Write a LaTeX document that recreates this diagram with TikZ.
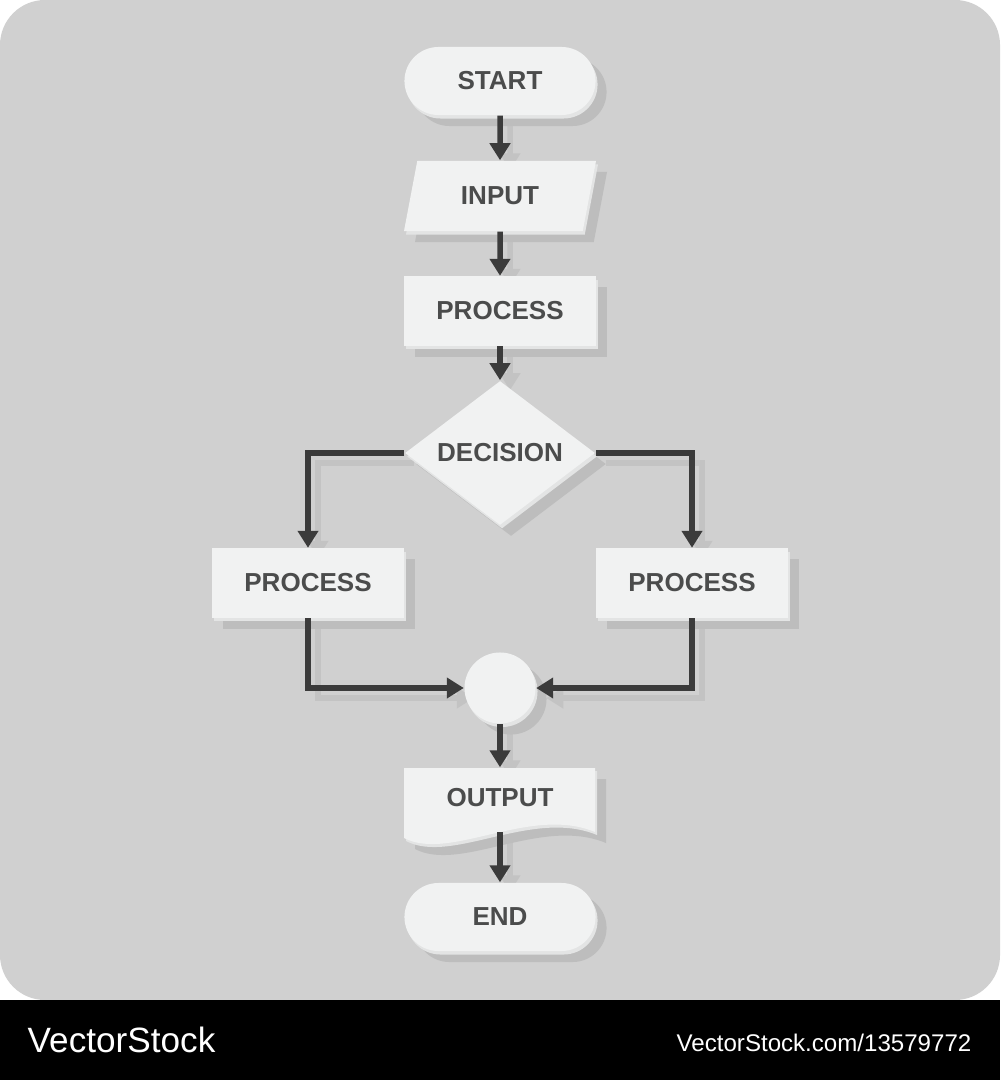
\documentclass[tikz,border=0pt]{standalone}
\usepackage{fontspec}
\setmainfont{Liberation Sans}
\usetikzlibrary{
    shapes.geometric,
    arrows.meta,
    shadows,
    positioning
}
\definecolor{panel}{HTML}{D0D0D0}
\definecolor{boxfill}{HTML}{F1F2F2}
\definecolor{boxedge}{HTML}{E3E4E4}
\definecolor{boxshd}{HTML}{BDBDBD}
\definecolor{wireshd}{HTML}{C3C3C3}
\definecolor{wireink}{HTML}{3B3B3B}
\definecolor{ink}{HTML}{4B4C4C}
\pgfdeclarelayer{back}
\pgfdeclarelayer{under}
\pgfsetlayers{back,under,main}

\newcommand{\flowlinks}[1]{
    \draw[#1] (start) -- (in);
    \draw[#1] (in) -- (proc);
    \draw[#1] (proc) -- (dec);
    \draw[#1] (dec.west) -| (lproc.north);
    \draw[#1] (dec.east) -| (rproc.north);
    \draw[#1] (lproc.south) |- (join.west);
    \draw[#1] (rproc.south) |- (join.east);
    \draw[#1] (join) -- (out.north);
    \draw[#1] (outb) -- (end);
}

\begin{document}
\begin{tikzpicture}[x=0.01cm, y=-0.01cm,
    box/.style={fill=boxfill, text=ink, inner sep=0pt,
        font=\fontsize{7.4}{9}\selectfont\bfseries,
        drop shadow={shadow xshift=0.11cm, shadow yshift=-0.11cm, fill=boxshd, opacity=1},
        drop shadow={shadow xshift=0.02cm, shadow yshift=-0.035cm, fill=boxedge, opacity=1}},
    terminal/.style={box, rectangle, rounded corners=0.34cm, minimum width=1.91cm, minimum height=0.68cm},
    iobox/.style={box, trapezium, trapezium left angle=71, trapezium right angle=109,
        trapezium stretches=true, minimum width=1.92cm, minimum height=0.70cm},
    procbox/.style={box, rectangle, minimum width=1.91cm, minimum height=0.69cm},
    decbox/.style={box, diamond, minimum width=1.90cm, minimum height=1.26cm},
    joinbox/.style={box, circle, minimum size=0.71cm},
    doclabel/.style={text=ink, inner sep=0pt, font=\fontsize{7.4}{9}\selectfont\bfseries,
        minimum width=1.91cm, minimum height=0.60cm},
    docpath/.style={insert path={(404,768) -- (595,768) -- (595,832)
        .. controls (530,805) and (450,862) .. (404,838) -- cycle}},
    wire/.style={draw=wireink, line width=0.055cm, -{Triangle[width=0.20cm, length=0.17cm]}},
    wireshadow/.style={wire, draw=wireshd,
        transform canvas={xshift=0.10cm, yshift=-0.10cm}},
    stamp/.style={text=white, inner sep=0pt}
]
    \useasboundingbox (0,0) rectangle (1000,1080);
    \begin{pgfonlayer}{back}
        \fill[white] (0,0) rectangle (1000,1080);
        \fill[panel, rounded corners=0.45cm] (0,0) rectangle (1000,1000);
        \fill[black] (0,1000) rectangle (1000,1080);
    \end{pgfonlayer}

    \node[stamp, anchor=base west, font=\fontsize{10}{12}\selectfont] (brand) at (27,1052) {VectorStock};
    \node[stamp, anchor=base east, font=\fontsize{6.85}{8}\selectfont] (ref) at (972,1051) {VectorStock.com/13579772};

    \fill[boxshd, shift={(11,11)}, docpath];
    \fill[boxedge, shift={(2,3)}, docpath];
    \fill[boxfill, docpath];

    \node[terminal] (start) at (500, 81) {START};
    \node[iobox] (in) at (500, 196) {INPUT};
    \node[procbox] (proc) at (500, 311) {PROCESS};
    \node[decbox] (dec) at (500, 453) {DECISION};
    \node[procbox] (lproc) at (308, 583) {PROCESS};
    \node[procbox] (rproc) at (692, 583) {PROCESS};
    \node[joinbox] (join) at (500, 688) {};
    \node[doclabel] (out) at (500, 798) {OUTPUT};
    \coordinate (outb) at (500, 832);
    \node[terminal] (end) at (500, 917) {END};

    \begin{pgfonlayer}{under}
        \flowlinks{wireshadow}
    \end{pgfonlayer}
    \flowlinks{wire}
\end{tikzpicture}
\end{document}
